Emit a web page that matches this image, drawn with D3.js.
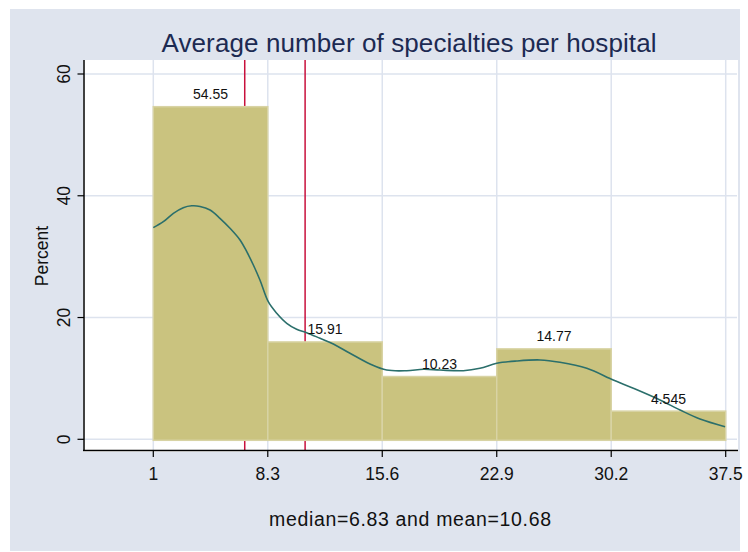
<!DOCTYPE html>
<html>
<head>
<meta charset="utf-8">
<script src="https://cdn.jsdelivr.net/npm/d3@7"></script>
<style>
  html, body { margin: 0; padding: 0; background: #ffffff; }
  svg { display: block; }
  text { font-family: "Liberation Sans", Arial, sans-serif; }
</style>
</head>
<body>
<svg id="chart" width="748" height="552"></svg>
<script>
// ---- data ----
const binEdges = [1, 8.3, 15.6, 22.9, 30.2, 37.5];
const binPercents = [54.55, 15.91, 10.23, 14.77, 4.545];
const binLabels = ["54.55", "15.91", "10.23", "14.77", "4.545"];
const xTicks = [1, 8.3, 15.6, 22.9, 30.2, 37.5];
const xTickLabels = ["1", "8.3", "15.6", "22.9", "30.2", "37.5"];
const yTicks = [0, 20, 40, 60];
const yTickLabels = ["0", "20", "40", "60"];
const refLines = [6.83, 10.68];
const densityX = [1.0, 1.64, 2.28, 2.91, 3.45, 3.98, 4.62, 5.25, 5.89, 6.53, 6.96, 7.38, 7.80, 8.33, 8.87, 9.51, 10.14, 10.78, 11.63, 12.48, 13.54, 14.82, 15.88, 17.16, 18.22, 19.28, 20.77, 21.83, 22.90, 24.17, 25.66, 26.93, 28.64, 30.33, 31.61, 33.31, 34.59, 35.86, 37.46];
const densityY = [34.76, 35.74, 37.12, 38.05, 38.35, 38.25, 37.66, 36.30, 34.66, 32.74, 30.81, 28.63, 26.17, 22.60, 20.70, 19.05, 18.07, 17.51, 16.59, 15.65, 14.13, 12.37, 11.38, 11.27, 11.50, 11.38, 11.27, 11.66, 12.48, 12.86, 13.03, 12.65, 11.66, 9.74, 8.38, 6.46, 4.81, 3.33, 2.07];
const titleText = "Average number of specialties per hospital";
const yTitle = "Percent";
const noteText = "median=6.83 and mean=10.68";

// ---- drawing ----
const svg = d3.select("#chart");
const x = d3.scaleLinear().domain([1, 37.5]).range([153.3, 725.7]);
const y = d3.scaleLinear().domain([0, 60]).range([439.3, 74]);

// outer graph region
svg.append("rect").attr("x", 10).attr("y", 9).attr("width", 730).attr("height", 542).attr("fill", "#dfe4ee");
// plot region
svg.append("rect").attr("x", 83).attr("y", 60).attr("width", 655).attr("height", 392).attr("fill", "#ffffff");

// gridlines
svg.append("g").selectAll("line").data(yTicks).join("line")
  .attr("x1", 84).attr("x2", 737)
  .attr("y1", d => y(d)).attr("y2", d => y(d))
  .attr("stroke", "#dde3ee").attr("stroke-width", 1.5);
svg.append("g").selectAll("line").data(xTicks).join("line")
  .attr("x1", d => x(d)).attr("x2", d => x(d))
  .attr("y1", 60).attr("y2", 450)
  .attr("stroke", "#dde3ee").attr("stroke-width", 1.5);

// reference lines (median, mean)
svg.append("g").selectAll("line").data(refLines).join("line")
  .attr("x1", d => x(d)).attr("x2", d => x(d))
  .attr("y1", 60).attr("y2", 450)
  .attr("stroke", "#c8103c").attr("stroke-width", 1.5);

// bars
const bins = binPercents.map((v, i) => ({ x0: binEdges[i], x1: binEdges[i + 1], v, label: binLabels[i] }));
svg.append("g").selectAll("rect").data(bins).join("rect")
  .attr("x", d => x(d.x0))
  .attr("y", d => y(d.v) - 0.5)
  .attr("width", d => x(d.x1) - x(d.x0))
  .attr("height", d => y(0) - y(d.v) + 1.5)
  .attr("fill", "#cac37f")
  .attr("stroke", "#d8d3a4")
  .attr("stroke-width", 1.5);

// density curve
const line = d3.line().x(d => x(d[0])).y(d => y(d[1])).curve(d3.curveCatmullRom.alpha(0.5));
svg.append("path")
  .datum(densityX.map((d, i) => [d, densityY[i]]))
  .attr("d", line)
  .attr("fill", "none")
  .attr("stroke", "#2b6f6b")
  .attr("stroke-width", 1.6);

// bar labels
svg.append("g").selectAll("text").data(bins).join("text")
  .attr("x", d => x((d.x0 + d.x1) / 2))
  .attr("y", d => y(d.v) - 8)
  .attr("text-anchor", "middle")
  .attr("font-size", 14)
  .attr("fill", "#111")
  .text(d => d.label);

// axes lines
svg.append("line").attr("x1", 84).attr("x2", 84).attr("y1", 60).attr("y2", 451)
  .attr("stroke", "#000").attr("stroke-width", 1.5);
svg.append("line").attr("x1", 83).attr("x2", 738).attr("y1", 450.5).attr("y2", 450.5)
  .attr("stroke", "#000").attr("stroke-width", 1.5);

// y ticks
svg.append("g").selectAll("line").data(yTicks).join("line")
  .attr("x1", 77.5).attr("x2", 84).attr("y1", d => y(d)).attr("y2", d => y(d))
  .attr("stroke", "#000").attr("stroke-width", 1.2);
svg.append("g").selectAll("text").data(yTicks).join("text")
  .attr("transform", d => `translate(70,${y(d)}) rotate(-90)`)
  .attr("text-anchor", "middle")
  .attr("font-size", 17.5)
  .attr("fill", "#111")
  .text((d, i) => yTickLabels[i]);

// x ticks
svg.append("g").selectAll("line").data(xTicks).join("line")
  .attr("x1", d => x(d)).attr("x2", d => x(d)).attr("y1", 450).attr("y2", 457)
  .attr("stroke", "#000").attr("stroke-width", 1.2);
svg.append("g").selectAll("text").data(xTicks).join("text")
  .attr("x", d => x(d)).attr("y", 480)
  .attr("text-anchor", "middle")
  .attr("font-size", 17.5)
  .attr("fill", "#111")
  .text((d, i) => xTickLabels[i]);

// y title
svg.append("text")
  .attr("transform", "translate(48,256) rotate(-90)")
  .attr("text-anchor", "middle")
  .attr("font-size", 17.5)
  .attr("fill", "#111")
  .text(yTitle);

// title
svg.append("text")
  .attr("x", 409).attr("y", 52)
  .attr("text-anchor", "middle")
  .attr("font-size", 26)
  .attr("textLength", 495)
  .attr("lengthAdjust", "spacing")
  .attr("fill", "#1c2a52")
  .text(titleText);

// note
svg.append("text")
  .attr("x", 410).attr("y", 526)
  .attr("text-anchor", "middle")
  .attr("font-size", 19.5)
  .attr("textLength", 282)
  .attr("lengthAdjust", "spacing")
  .attr("fill", "#111")
  .text(noteText);
</script>
</body>
</html>
